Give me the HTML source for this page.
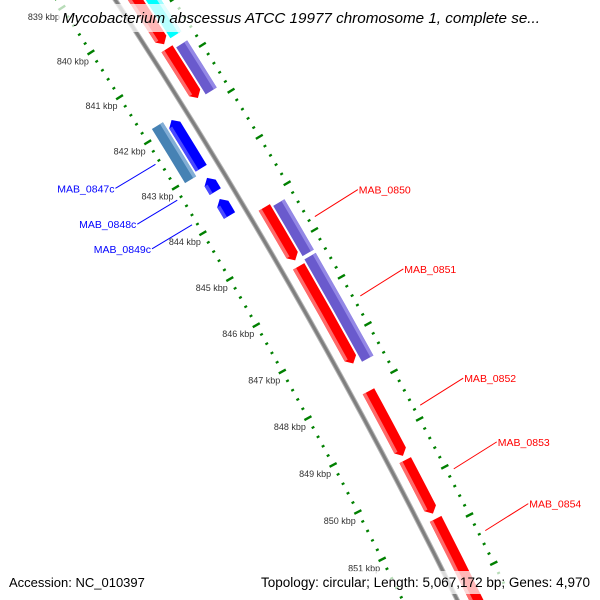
<!DOCTYPE html>
<html><head><meta charset="utf-8"><style>
html,body{margin:0;padding:0;background:#fff;width:600px;height:600px;overflow:hidden;}
svg{display:block;font-family:"Liberation Sans",sans-serif;overflow:hidden;}
</style></head><body>
<svg id="map" width="600" height="600" viewBox="0 0 600 600" xmlns="http://www.w3.org/2000/svg">
<defs><clipPath id="frame"><rect width="600" height="600"/></clipPath></defs>
<rect width="600" height="600" fill="#fff"/>
<g clip-path="url(#frame)">
<g id="rulers"></g>
<g id="backbone"></g>
<g id="genes"></g>
<g id="labels"></g>
</g>
<rect x="58" y="4" width="488" height="28" fill="#fff" fill-opacity="0.72"/>
<text x="62" y="23" font-size="15" font-style="italic" fill="#000" textLength="478" lengthAdjust="spacingAndGlyphs">Mycobacterium abscessus ATCC 19977 chromosome 1, complete se...</text>
<rect x="4" y="571" width="150" height="23" fill="#fff" fill-opacity="0.72"/>
<rect x="255" y="571" width="341" height="23" fill="#fff" fill-opacity="0.72"/>
<text x="9" y="587" font-size="13" fill="#000">Accession: NC_010397</text>
<text x="261" y="587" font-size="13.5" fill="#000" textLength="329" lengthAdjust="spacingAndGlyphs">Topology: circular; Length: 5,067,172 bp; Genes: 4,970</text>
</svg>
<script>
// gene data (kbp)
const geneNames = ["g-top-red","g-red-2","MAB_0850","MAB_0851","MAB_0852","MAB_0853","MAB_0854","g-cyan","g-purple-1","g-purple-2","g-purple-3","g-blue-1","MAB_0848c","MAB_0849c","MAB_0847c"];
const geneStarts = [838.0,840.71,844.17,845.44,848.10,849.55,850.78,838.0,840.78,844.23,845.38,841.88,843.15,843.61,841.83];
const geneEnds   = [840.61,841.79,845.31,847.51,849.46,850.67,853.2,840.58,841.81,845.31,847.56,842.94,843.45,843.97,843.02];
const geneStrands = [1,1,1,1,1,1,1,0,0,0,0,-1,-1,-1,0];
const geneTracks = [1,1,1,1,1,1,1,2,2,2,2,-1,-1,-1,-2];
const geneColors = ["#ff0000","#ff0000","#ff0000","#ff0000","#ff0000","#ff0000","#ff0000","#00ffff","#6a5acd","#6a5acd","#6a5acd","#0000ff","#0000ff","#0000ff","#4682b4"];
const geneLabeled = [false,false,true,true,true,true,true,false,false,false,false,false,true,true,true];
const geneLabelKbp = [0,0,844.79,846.48,848.78,850.11,851.39,0,0,0,0,0,843.22,843.76,842.43];
// ruler data
const tickLabelKbp = [839,840,841,842,843,844,845,846,847,848,849,850,851];
const rulerStartKbp = 838;
const rulerEndKbp = 852.4;

const CX=-4676, CY=3128, R=5722;
const NS="http://www.w3.org/2000/svg";
function ang(k){return (-32.83+(k-840)*0.537)*Math.PI/180;}
function pt(r,k){const a=ang(k);return [CX+r*Math.cos(a),CY+r*Math.sin(a)];}
function P(p){return p[0].toFixed(2)+" "+p[1].toFixed(2);}
function mk(tag,attrs,parent){const e=document.createElementNS(NS,tag);for(const k in attrs)e.setAttribute(k,attrs[k]);parent.appendChild(e);return e;}

// backbone
const bb=document.getElementById('backbone');
const bbd="M"+P(pt(R,837))+" A"+R+" "+R+" 0 0 1 "+P(pt(R,853.5));
let e=mk('path',{d:bbd,fill:"none",stroke:"#b5b5b5","stroke-width":5},bb);


e=mk('path',{d:bbd,fill:"none",stroke:"#7f7f7f","stroke-width":3},bb);



// rulers
const rg=document.getElementById('rulers');
const rulerRadii=[5673,5771];
rulerRadii.forEach(function(rr,ri){
  for(let i=0;;i++){
    const k=rulerStartKbp+i*0.2;
    if(k>rulerEndKbp)break;
    const major=Math.abs(k-Math.round(k))<0.01;
    const hl=major?4:1.5;
    const l=mk('line',{},rg);
    const a=pt(rr-hl,k),b=pt(rr+hl,k);
    l.setAttribute('x1',a[0]);l.setAttribute('y1',a[1]);l.setAttribute('x2',b[0]);l.setAttribute('y2',b[1]);
    l.setAttribute('stroke','#008000');l.setAttribute('stroke-width',major?2.4:2.2);
    
    
  }
});
tickLabelKbp.forEach(function(k){
  const p=pt(5673,k);
  const t=mk('text',{x:(p[0]-2).toFixed(1),y:(p[1]+12).toFixed(1),"font-size":9,"text-anchor":"end",fill:"#333"},rg);
  t.textContent=k+" kbp";
  
  
});

// genes
const gg=document.getElementById('genes');
const lg=document.getElementById('labels');
const trackIn={1:5732.5,2:5747.5,"-1":5698.5,"-2":5683.5};
const W=13;
const lighter={"#ff0000":"#ff6a6a","#6a5acd":"#9488e6","#00ffff":"#9ffcff","#0000ff":"#4a4aff","#4682b4":"#82aed6"};
for(let i=0;i<geneNames.length;i++){
  const r0=trackIn[geneTracks[i]], r1=r0+W, rm=r0+W/2;
  const s=geneStarts[i], en=geneEnds[i], st=geneStrands[i];
  const h=st===0?0:6/(rm*0.537*Math.PI/180);
  let d;
  if(st>=0){
    d="M"+P(pt(r1,s))+" A"+r1+" "+r1+" 0 0 1 "+P(pt(r1,en-h))+" L"+P(pt(rm,en))+" L"+P(pt(r0,en-h))+" A"+r0+" "+r0+" 0 0 0 "+P(pt(r0,s))+" Z";
  } else {
    d="M"+P(pt(rm,s))+" L"+P(pt(r1,s+h))+" A"+r1+" "+r1+" 0 0 1 "+P(pt(r1,en))+" L"+P(pt(r0,en))+" A"+r0+" "+r0+" 0 0 0 "+P(pt(r0,s+h))+" Z";
  }
  const g=mk('path',{d:d,fill:geneColors[i]},gg);
  
  
  const outer=(geneTracks[i]===2||geneTracks[i]===-2);
  const sr0=outer?r1-3.5:r0, sr1=outer?r1:r0+3.5;
  const ss=st<0?s+h:s, se=st>0?en-h:en;
  const sd="M"+P(pt(sr1,ss))+" A"+sr1+" "+sr1+" 0 0 1 "+P(pt(sr1,se))+" L"+P(pt(sr0,se))+" A"+sr0+" "+sr0+" 0 0 0 "+P(pt(sr0,ss))+" Z";
  const sp=mk('path',{d:sd,fill:lighter[geneColors[i]]},gg);
  
  
  if(geneLabeled[i]){
    const mid=geneLabelKbp[i];
    const fwd=st>0;
    const p=pt(fwd?5778:5668,mid);
    const q=fwd?[p[0]+43,p[1]-27]:[p[0]-40,p[1]+24];
    const col=fwd?"#ff0000":"#0000ff";
    const ln=mk('line',{x1:p[0],y1:p[1],x2:q[0],y2:q[1],stroke:col,"stroke-width":1},lg);
    
    
    const t=mk('text',{x:(fwd?q[0]+1:q[0]-1).toFixed(1),y:(q[1]+4).toFixed(1),"font-size":10.5,fill:col,"text-anchor":fwd?"start":"end"},lg);
    t.textContent=geneNames[i];
    
    
  }
}
</script>
</body></html>
